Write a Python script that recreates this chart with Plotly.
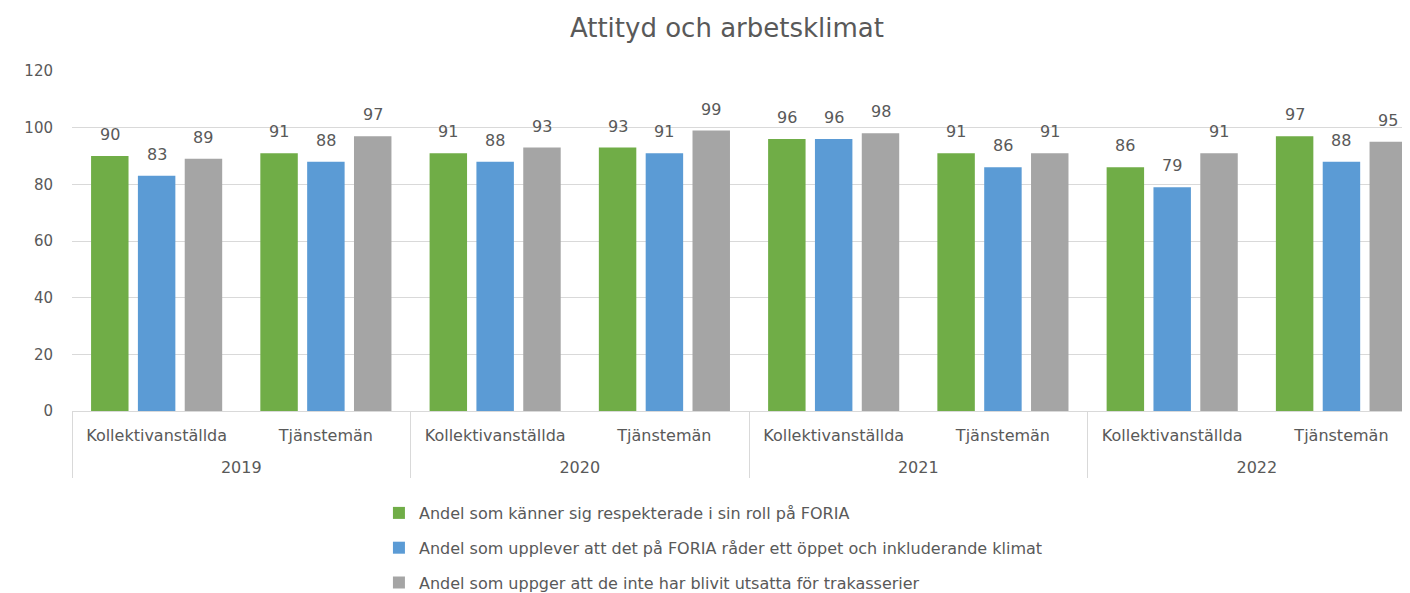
import plotly.graph_objects as go

years = ["2019", "2020", "2021", "2022"]
groups = ["Kollektivanställda", "Tjänstemän"]

series_names = [
    "Andel som känner sig respekterade i sin roll på FORIA",
    "Andel som upplever att det på FORIA råder ett öppet och inkluderande klimat",
    "Andel som uppger att de inte har blivit utsatta för trakasserier",
]
respekterade = [90, 91, 91, 93, 96, 91, 86, 97]
inkluderande = [83, 88, 88, 91, 96, 86, 79, 88]
trakasserier = [89, 97, 93, 99, 98, 91, 91, 95]
colors = ["#70AD47", "#5B9BD5", "#A5A5A5"]

FONT = "DejaVu Sans"
TXT = "#595959"
BARGAP = 0.17
BARGROUPGAP = 0.2

# leading line break only pushes the outer (year) label row further down
year_labels = ["<br>" + y for y in years]
x = [[y for y in year_labels for g in groups], [g for y in year_labels for g in groups]]
all_series = [respekterade, inkluderande, trakasserier]

fig = go.Figure()
for i, (name, vals) in enumerate(zip(series_names, all_series)):
    fig.add_trace(go.Bar(
        x=x, y=vals, name=name, marker=dict(color=colors[i], line=dict(width=0)),
        legendgroup=f"g{i}",
    ))

# data labels above each bar (category index + group offset on the axis scale)
slot = (1 - BARGAP) / len(all_series)
annotations = []
for i, vals in enumerate(all_series):
    off = (i - (len(all_series) - 1) / 2) * slot
    for j, v in enumerate(vals):
        annotations.append(dict(
            x=j + off, y=v, xref="x", yref="y", text=str(v), showarrow=False,
            xanchor="center", yanchor="bottom", yshift=10,
            font=dict(family=FONT, size=16, color=TXT),
        ))

fig.update_layout(
    width=1402, height=585,
    margin=dict(l=64, r=0, t=63, b=182, autoexpand=False),
    paper_bgcolor="white", plot_bgcolor="white",
    barmode="group", bargap=BARGAP, bargroupgap=BARGROUPGAP,
    font=dict(family=FONT, size=16, color=TXT),
    title=dict(text="Attityd och arbetsklimat", x=0.5128, xref="container", xanchor="center",
               y=0.9658, yref="container", yanchor="middle",
               font=dict(family=FONT, size=26, color=TXT)),
    xaxis=dict(type="multicategory", range=[-0.5, 7.405], autorange=False,
               showline=True, linecolor="#D9D9D9", linewidth=1,
               showdividers=True, dividercolor="#D9D9D9", dividerwidth=1,
               ticklabelstandoff=10,
               tickfont=dict(family=FONT, size=16, color=TXT), showgrid=False),
    yaxis=dict(range=[0, 120], dtick=20, showgrid=True, gridcolor="#D9D9D9", gridwidth=1,
               zeroline=False, showline=False, ticklabelstandoff=18,
               tickfont=dict(family=FONT, size=15, color=TXT)),
    legend=dict(orientation="v", x=0.2294, xanchor="left", y=-0.25, yanchor="top",
                font=dict(family=FONT, size=16, color=TXT), tracegroupgap=11,
                itemwidth=30),
    annotations=annotations,
    showlegend=True,
)

fig.write_html("out.html")
